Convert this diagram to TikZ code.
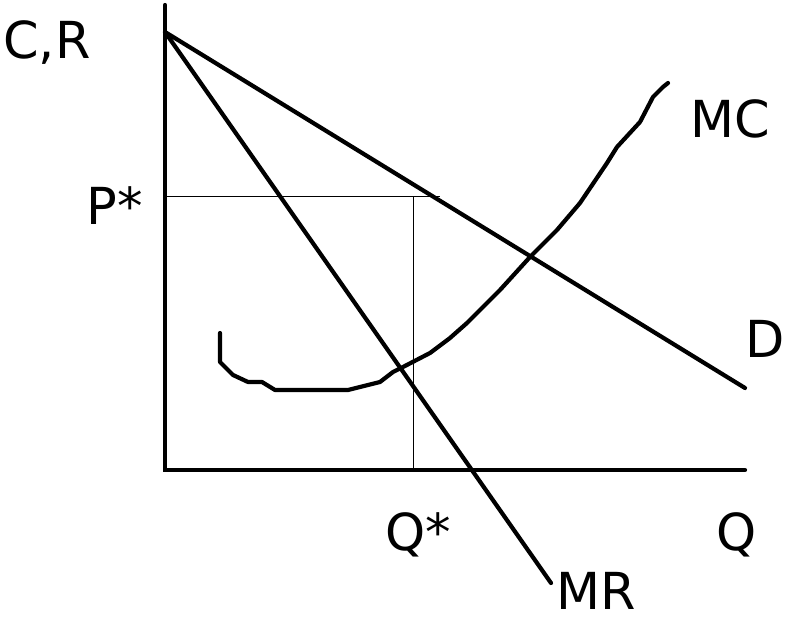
\documentclass[tikz,border=0pt]{standalone}
\usepackage{fontspec}
\setmainfont{DejaVu Sans}
\usetikzlibrary{calc}
\tikzset{
  axisline/.style={line width=4.2pt, line cap=round},
  curveline/.style={line width=4.2pt, line join=round, line cap=round},
  guideline/.style={line width=1pt},
  lbl/.style={anchor=base, inner sep=0pt, font=\fontsize{51}{60}\selectfont}
}
\begin{document}
\begin{tikzpicture}[x=1pt, y=-1pt]
		%%%%% START %%%%%
		\useasboundingbox (0, 0) rectangle (806, 620);
		
		\coordinate (O) at (165, 470);
		\coordinate (ytop) at (165, 5);
		\coordinate (xend) at (745, 470);
		\coordinate (A) at (165, 32);
		\coordinate (Dend) at (745, 388);
		\coordinate (MRend) at (551, 583);
		\coordinate (Pstar) at (165, 197);
		\coordinate (E) at (413, 197);
		\coordinate (Qstar) at (413, 470);
		
		% axes
		\draw[axisline] (ytop) -- (O) -- (xend);
		
		% demand and marginal revenue
		\draw[axisline] (A) -- (Dend);
		\draw[axisline] (A) -- (MRend);
		
		% price and quantity guides
		\draw[guideline] (Pstar) -- (440, 197);
		\draw[guideline] (E) -- (Qstar);
		
		% marginal cost
		\draw[curveline] (220, 333) -- (220, 362) -- (233, 375) -- (248, 382)
		  -- (262, 382) -- (275, 390) -- (348, 390) -- (380, 382) -- (393, 372)
		  -- (403, 367) -- (430, 353) -- (450, 338) -- (467, 323) -- (500, 290)
		  -- (530, 257) -- (557, 230) -- (580, 203) -- (607, 163) -- (617, 147)
		  -- (640, 122) -- (653, 97) -- (663, 87) -- (668, 83);
		
		% labels
		\node[lbl] (cr) at (47, 59) {C,R};
		\node[lbl] (p) at (115, 225) {P*};
		\node[lbl] (mc) at (730, 138) {MC};
		\node[lbl] (d) at (765, 358) {D};
		\node[lbl] (qs) at (418, 550) {Q*};
		\node[lbl] (q) at (737, 550) {Q};
		\node[lbl] (mr) at (596, 609) {MR};
		
		%%%%% END %%%%%
\end{tikzpicture}
\end{document}
